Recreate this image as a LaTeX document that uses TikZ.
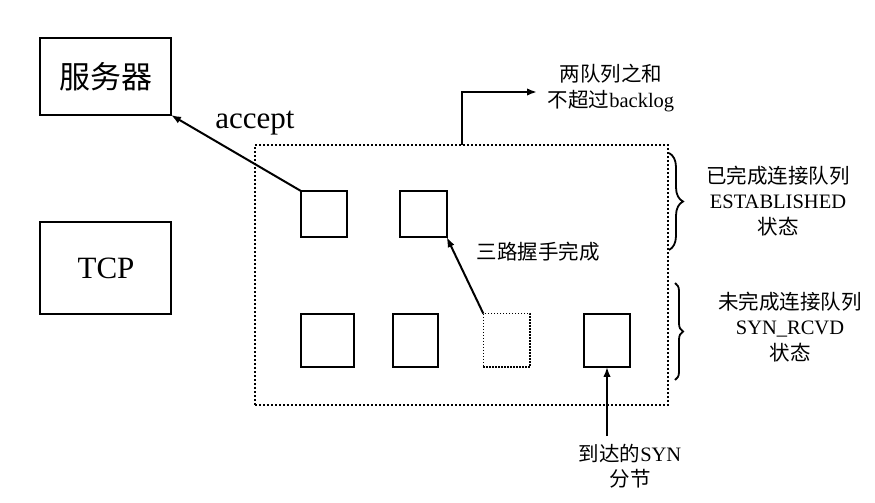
\documentclass[tikz,border=0pt]{standalone}
\usepackage{fontspec}
\setmainfont{Liberation Serif}
\newfontfamily\cjk{Noto Sans CJK SC}
\usetikzlibrary{arrows.meta,decorations.pathreplacing}
\tikzset{
  box/.style={draw,line width=2.2pt,inner sep=0pt,outer sep=0pt},
  qbox/.style={draw,line width=2.2pt,inner sep=0pt,outer sep=0pt},
  dotbox/.style={draw,line width=1.4pt,dash pattern=on 1.4pt off 1.6pt,inner sep=0pt,outer sep=0pt},
  bigbox/.style={draw,line width=2pt,dash pattern=on 2pt off 2pt,inner sep=0pt,outer sep=0pt},
  arr/.style={line width=2pt,-{Latex[length=10pt,width=7.5pt]}},
  big/.style={font=\fontsize{31}{35}\selectfont},
  small/.style={font=\fontsize{20.5}{25.5}\selectfont,align=center,inner sep=0pt},
  brc/.style={decorate,line width=1.8pt},
}
\begin{document}
\begin{tikzpicture}[x=1pt,y=-1pt]
\useasboundingbox (0,0) rectangle (875,503);
% left boxes
\node[box,minimum width=131pt,minimum height=77pt] (srv) at (105.5,76.5) {};
\node[big] (srvt) at (106,77) {\cjk 服务器};
\node[box,minimum width=131pt,minimum height=92pt] (tcp) at (105.7,268) {};
\node[big] (tcpt) at (106,268) {TCP};
% big dotted rectangle
\node[bigbox,minimum width=413pt,minimum height=260pt] (bigr) at (461.5,275) {};
% queue boxes
\node[qbox,minimum width=46.6pt,minimum height=46.3pt] (b1) at (324,214) {};
\node[qbox,minimum width=47pt,minimum height=46.3pt] (b2) at (423.2,214) {};
\node[qbox,minimum width=53.6pt,minimum height=53.3pt] (b3) at (327.5,340.3) {};
\node[qbox,minimum width=45.6pt,minimum height=53.3pt] (b4) at (415.5,340.3) {};
\node[dotbox,minimum width=46.7pt,minimum height=53.3pt] (b5) at (506.7,340.3) {};
\node[qbox,minimum width=46pt,minimum height=53.3pt] (b6) at (607,340.3) {};
% accept
\draw[arr] (b1.north west) -- (srv.south east);
\node[big] (acc) at (255,123) {accept};
% three-way handshake
\draw[arr] (b5.north west) -- (b2.south east);
\node[small] (hs) at (538,252) {\cjk 三路握手完成};
% backlog
\coordinate (tipA) at (537,92);
\draw[arr] (bigr.north) |- (tipA);
\node[small] (bl) at (611,88) {{\cjk 两队列之和}\\{\cjk 不超过}backlog};
% SYN arrival
\coordinate (synS) at (607,436);
\draw[arr] (synS) -- (b6.south);
\node[small] (syn) at (630,466) {{\cjk 到达的}SYN\\{\cjk 分节}};
% braces
\coordinate (u1) at (669,153);
\coordinate (u2) at (669,250);
\draw[brc,decoration={brace,amplitude=14pt}] (u1) -- (u2);
\coordinate (l1) at (675,283);
\coordinate (l2) at (675,380);
\draw[brc,decoration={brace,amplitude=8pt}] (l1) -- (l2);
\node[small] (est) at (778,201) {{\cjk 已完成连接队列}\\ESTABLISHED\\{\cjk 状态}};
\node[small] (syr) at (790,327) {{\cjk 未完成连接队列}\\SYN\_RCVD\\{\cjk 状态}};
\end{tikzpicture}
\end{document}
